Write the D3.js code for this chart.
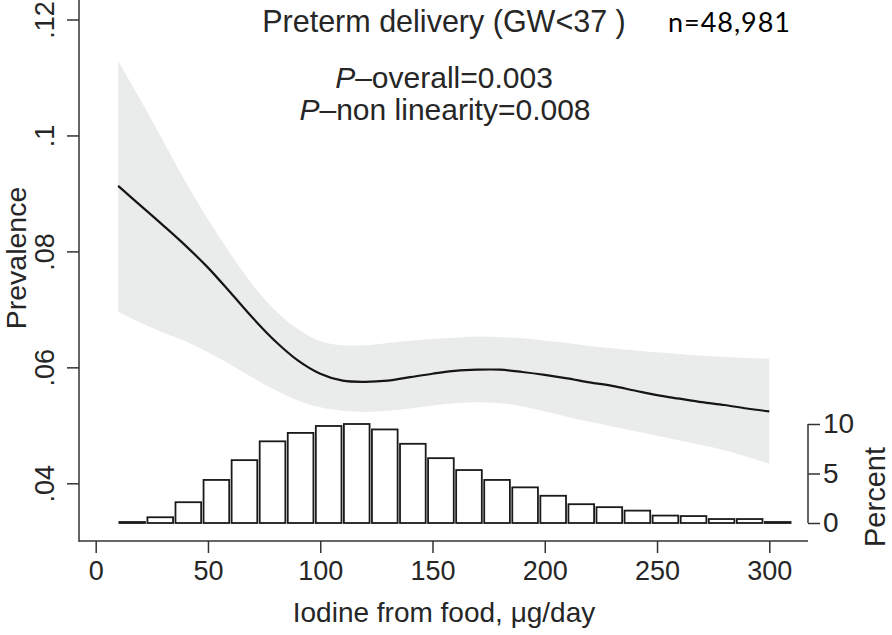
<!DOCTYPE html>
<html>
<head>
<meta charset="utf-8">
<script src="https://cdn.jsdelivr.net/npm/d3@7"></script>
<style>
html,body{margin:0;padding:0;background:#fff;}
svg{display:block;}
text{font-family:"Liberation Sans", Arial, Helvetica, sans-serif; fill:#262626;}
</style>
</head>
<body>
<svg id="chart" width="892" height="635"></svg>
<script>
// ---- data ----
const curveX   = [10,20,30,40,50,60,70,80,90,100,110,120,130,140,150,160,170,180,190,200,210,220,230,240,250,260,270,280,290,300];
const estimate = [0.0913,0.0879,0.0845,0.0810,0.0772,0.0729,0.0685,0.0645,0.0612,0.0589,0.0577,0.0575,0.0577,0.0583,0.0589,0.0594,0.0596,0.0596,0.0592,0.0587,0.0581,0.0574,0.0568,0.0560,0.0552,0.0546,0.0540,0.0535,0.0529,0.0524];
const upperCI  = [0.1129,0.1061,0.0991,0.0920,0.0855,0.0796,0.0742,0.0698,0.0666,0.0645,0.0638,0.0638,0.0642,0.0646,0.0649,0.0651,0.0653,0.0652,0.0650,0.0646,0.0642,0.0637,0.0633,0.0629,0.0626,0.0623,0.0620,0.0618,0.0616,0.0615];
const lowerCI  = [0.0696,0.0677,0.0660,0.0645,0.0626,0.0605,0.0582,0.0561,0.0543,0.0531,0.0525,0.0523,0.0525,0.0529,0.0534,0.0538,0.0540,0.0538,0.0533,0.0524,0.0515,0.0506,0.0498,0.0490,0.0482,0.0474,0.0466,0.0457,0.0446,0.0434];

const binStart = [10,22.5,35,47.5,60,72.5,85,97.5,110,122.5,135,147.5,160,172.5,185,197.5,210,222.5,235,247.5,260,272.5,285,297.5];
const binWidth = 12.5;
const percent  = [0.1,0.58,2.1,4.35,6.35,8.25,9.1,9.8,10.0,9.45,8.0,6.55,5.35,4.35,3.6,2.75,1.9,1.6,1.25,0.75,0.7,0.4,0.4,0.1];

const xTicks = [0,50,100,150,200,250,300];
const yTicks = [0.04,0.06,0.08,0.10,0.12];
const yTickLabels = [".04",".06",".08",".1",".12"];
const pTicks = [0,5,10];

const titleText = "Preterm delivery (GW<37 )";
const nText = "n=48,981";
const xTitle = "Iodine from food, μg/day";
const yTitle = "Prevalence";
const pTitle = "Percent";

// ---- scales ----
const svg = d3.select("#chart");
const x = d3.scaleLinear().domain([0,300]).range([95.7,769.3]);
const y = d3.scaleLinear().domain([0.04,0.12]).range([483.3,19.5]);
const p = d3.scaleLinear().domain([0,10]).range([523,424]);

const axisColor = "#333";
const curveType = d3.curveCatmullRom.alpha(0.5);

// CI band
const pts = curveX.map((v,i)=>({x:v, e:estimate[i], u:upperCI[i], l:lowerCI[i]}));
svg.append("path")
  .datum(pts)
  .attr("d", d3.area().x(d=>x(d.x)).y0(d=>y(d.l)).y1(d=>y(d.u)).curve(curveType))
  .attr("fill","#eaebeb");

// histogram
svg.append("g").selectAll("rect")
  .data(binStart.map((b,i)=>({x0:b, x1:b+binWidth, v:percent[i]})))
  .join("rect")
  .attr("x", d=>x(d.x0)+1.2)
  .attr("width", d=>x(d.x1)-x(d.x0)-2.4)
  .attr("y", d=>p(d.v))
  .attr("height", d=>Math.max(0.5, p(0)-p(d.v)))
  .attr("fill","#fff")
  .attr("stroke","#1a1a1a")
  .attr("stroke-width",1.8);

// estimate line
svg.append("path")
  .datum(pts)
  .attr("d", d3.line().x(d=>x(d.x)).y(d=>y(d.e)).curve(curveType))
  .attr("fill","none")
  .attr("stroke","#151515")
  .attr("stroke-width",2.2);

// axes lines
const axisY = 541, axisX = 79;
svg.append("line").attr("x1",axisX).attr("x2",axisX).attr("y1",0).attr("y2",axisY+0.75)
  .attr("stroke",axisColor).attr("stroke-width",1.5);
svg.append("line").attr("x1",axisX).attr("x2",808).attr("y1",axisY).attr("y2",axisY)
  .attr("stroke",axisColor).attr("stroke-width",1.5);

// x axis ticks
const xa = svg.append("g").attr("transform",`translate(0,${axisY})`)
  .call(d3.axisBottom(x).tickValues(xTicks).tickSize(12).tickPadding(8).tickSizeOuter(0).tickFormat(d3.format("d")));
xa.select(".domain").remove();
xa.selectAll("line").attr("stroke",axisColor).attr("stroke-width",1.5);
xa.selectAll("text").attr("font-size",27).attr("font-family","Liberation Sans, Arial, sans-serif").attr("fill","#262626").attr("dy","0.71em");

// y axis ticks
const ya = svg.append("g").attr("transform",`translate(${axisX},0)`)
  .call(d3.axisLeft(y).tickValues(yTicks).tickSize(12).tickSizeOuter(0).tickFormat((d,i)=>yTickLabels[i]));
ya.select(".domain").remove();
ya.selectAll("line").attr("stroke",axisColor).attr("stroke-width",1.5);
ya.selectAll("text")
  .attr("transform","rotate(-90)")
  .attr("x",0).attr("y",-25).attr("dy",0)
  .attr("text-anchor","middle")
  .attr("font-size",27).attr("font-family","Liberation Sans, Arial, sans-serif").attr("fill","#262626");

// right percent axis
const rx = 808;
svg.append("line").attr("x1",rx).attr("x2",rx).attr("y1",p(10)).attr("y2",p(0))
  .attr("stroke",axisColor).attr("stroke-width",1.5);
const pa = svg.append("g").attr("transform",`translate(${rx},0)`)
  .call(d3.axisRight(p).tickValues(pTicks).tickSize(12).tickPadding(3).tickSizeOuter(0));
pa.select(".domain").remove();
pa.selectAll("line").attr("stroke",axisColor).attr("stroke-width",1.5);
pa.selectAll("text").attr("font-size",28).attr("font-family","Liberation Sans, Arial, sans-serif").attr("fill","#262626");

// titles
svg.append("text").attr("x",444).attr("y",32).attr("text-anchor","middle").attr("font-size",30.5).text(titleText);
svg.append("text").attr("x",668).attr("y",32).attr("font-size",27)
  .attr("textLength",122).attr("lengthAdjust","spacing")
  .style("font-family","Lato, 'Open Sans', sans-serif").style("fill","#000").text(nText);

const pt1 = svg.append("text").attr("x",444).attr("y",88).attr("text-anchor","middle").attr("font-size",30);
pt1.append("tspan").attr("font-style","italic").text("P");
pt1.append("tspan").text("–overall=0.003");
const pt2 = svg.append("text").attr("x",445).attr("y",120).attr("text-anchor","middle").attr("font-size",30);
pt2.append("tspan").attr("font-style","italic").text("P");
pt2.append("tspan").text("–non linearity=0.008");

svg.append("text").attr("x",444).attr("y",622).attr("text-anchor","middle").attr("font-size",28).text(xTitle);
svg.append("text").attr("transform","translate(26,258) rotate(-90)").attr("text-anchor","middle").attr("font-size",28.5).text(yTitle);
svg.append("text").attr("transform","translate(885,497) rotate(-90)").attr("text-anchor","middle").attr("font-size",29).text(pTitle);
</script>
</body>
</html>
